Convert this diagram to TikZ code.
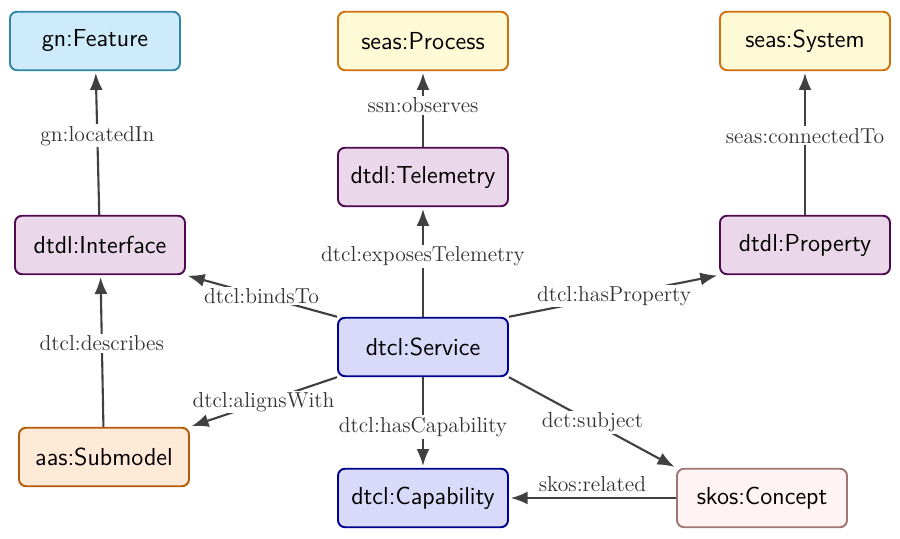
\documentclass[tikz,border=0pt]{standalone}
\usepackage{tikz}
\usetikzlibrary{arrows.meta,positioning}

\definecolor{featfill}{HTML}{CDEBFB}
\definecolor{featline}{HTML}{2E87A6}
\definecolor{seasfill}{HTML}{FFFAD6}
\definecolor{seasline}{HTML}{D2700C}
\definecolor{dtdlfill}{HTML}{EAD7EA}
\definecolor{dtdlline}{HTML}{4E0A4E}
\definecolor{dtclfill}{HTML}{D9D9FA}
\definecolor{dtclline}{HTML}{00008F}
\definecolor{aasfill}{HTML}{FFE9D7}
\definecolor{aasline}{HTML}{B55A06}
\definecolor{skosfill}{HTML}{FFF3F3}
\definecolor{skosline}{HTML}{A07575}
\definecolor{edgegray}{HTML}{404040}

\tikzset{
	cls/.style={draw, rounded corners=4pt, line width=1.1pt, minimum width=3.4cm, minimum height=1.17cm,
		font=\fontsize{14}{16}\sffamily},
	feat/.style={cls, fill=featfill, draw=featline},
	seas/.style={cls, fill=seasfill, draw=seasline},
	dtdl/.style={cls, fill=dtdlfill, draw=dtdlline},
	dtcl/.style={cls, fill=dtclfill, draw=dtclline},
	aas/.style={cls, fill=aasfill, draw=aasline},
	skos/.style={cls, fill=skosfill, draw=skosline},
	lbl/.style={fill=white, inner sep=1pt, text=edgegray!80!black, font=\fontsize{12.3}{14}\selectfont}
}

\begin{document}
\begin{tikzpicture}[shorten >=1pt, on grid, >={Latex[length=3.4mm,width=2.6mm]}]
	\useasboundingbox (-8.46,-3.84) rectangle (9.54,6.94);

	\node[dtcl] (svc) {dtcl:Service};
	\node[dtdl] (tel) [above=3.4cm of svc] {dtdl:Telemetry};
	\node[seas] (proc) [above=2.72cm of tel] {seas:Process};
	\node[dtdl] (iface) [left=6.46cm of svc, yshift=2.04cm] {dtdl:Interface};
	\node[feat] (feat) [above=4.08cm of iface, xshift=-0.1cm] {gn:Feature};
	\node[dtdl] (prop) [right=7.64cm of svc, yshift=2.04cm] {dtdl:Property};
	\node[seas] (sys) [above=4.08cm of prop] {seas:System};
	\node[aas] (sub) [left=6.38cm of svc, yshift=-2.2cm] {aas:Submodel};
	\node[dtcl] (cap) [below=3.02cm of svc] {dtcl:Capability};
	\node[skos] (concept) [right=6.78cm of cap] {skos:Concept};

	\path[->, edgegray, line width=1.2pt]
		(iface)	edge		node[lbl, pos=0.55] {gn:locatedIn} (feat)
		(tel)	edge		node[lbl, pos=0.55] {ssn:observes} (proc)
		(prop)	edge		node[lbl, pos=0.55] {seas:connectedTo} (sys)
		(svc)	edge		node[lbl, pos=0.55] {dtcl:exposesTelemetry} (tel)
		(svc.north west)	edge	node[lbl] {dtcl:bindsTo} (iface.south east)
		(svc.north east)	edge	node[lbl] {dtcl:hasProperty} (prop.south west)
		(sub)	edge		node[lbl, pos=0.55] {dtcl:describes} (iface)
		(svc.south west)	edge	node[lbl] {dtcl:alignsWith} (sub.north east)
		(svc)	edge		node[lbl, pos=0.55] {dtcl:hasCapability} (cap)
		(svc.south east)	edge	node[lbl] {dct:subject} (concept.north west)
		(concept)	edge	node[lbl, above=2pt] {skos:related} (cap)
	;
\end{tikzpicture}
\end{document}
